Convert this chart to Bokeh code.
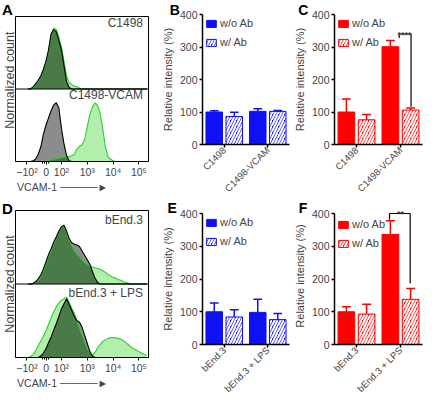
import math
import numpy as np
from bokeh.plotting import figure
from bokeh.layouts import row, column
from bokeh.models import (FixedTicker, Label, Arrow, Legend, LegendItem, Span, Title)
from bokeh.embed import file_html
from bokeh.resources import INLINE

FONT = "Liberation Sans"

# ---------------- data ----------------
# flow cytometry channel (logicle display position, decades)
channel = [0.7, 0.8, 0.9, 1.0, 1.1, 1.2, 1.3, 1.4, 1.5, 1.6, 1.7, 1.8, 1.9, 2.0,
           2.1, 2.2, 2.3, 2.4, 2.5, 2.6, 2.7, 2.8, 2.9, 3.0, 3.1, 3.2, 3.3, 3.4,
           3.5, 3.6, 3.7, 3.8, 3.9, 4.0, 4.1, 4.2, 4.3, 4.4, 4.5, 4.6, 4.7, 4.8,
           4.9, 5.0, 5.1, 5.2, 5.3]
axis_ticks = [0.667, 1.41, 2.0, 3.0, 4.0, 5.0]
axis_tick_labels = ["\u221210\u00b2", "0", "10\u00b2", "10\u00b3", "10\u2074", "10\u2075"]
marker_label = "VCAM-1 \u2500\u2500\u2500\u2500\u2500\u25ba"

# Panel A (C1498 / C1498-VCAM) normalized counts: gray = control, green = VCAM-1
a_top_ctrl = [0, 0, 3, 7, 12, 18, 27, 38, 54, 76, 82, 79, 67, 54, 32, 10, 2, 0, 0, 0,
              0, 0, 0, 0, 0, 0, 0, 0, 0, 0, 0, 0, 0, 0, 0, 0, 0, 0, 0, 0, 0, 0, 0, 0,
              0, 0, 0]
a_top_vcam = [0, 0, 2, 6, 11, 17, 26, 37, 52, 74, 84, 82, 72, 58, 38, 18, 9, 6, 4, 3,
              1, 0, 0, 0, 0, 0, 0, 0, 0, 0, 0, 0, 0, 0, 0, 0, 0, 0, 0, 0, 0, 0, 0, 0,
              0, 0, 0]
a_bot_ctrl = [0, 0, 1, 3, 10, 20, 37, 50, 60, 70, 78, 81, 74, 46, 24, 8, 1, 0, 0, 0,
              0, 0, 0, 0, 0, 0, 0, 0, 0, 0, 0, 0, 0, 0, 0, 0, 0, 0, 0, 0, 0, 0, 0, 0,
              0, 0, 0]
a_bot_vcam = [0, 0, 0, 0, 0, 0, 0, 0, 1, 2, 3, 4, 5, 6, 6, 7, 7, 8, 10, 17,
              21, 23, 30, 48, 65, 75, 81, 77, 66, 45, 20, 7, 3, 1, 0, 0, 0, 0, 0, 0,
              0, 0, 0, 0, 0, 0, 0]
# Panel D (bEnd.3 / bEnd.3 + LPS)
d_top_ctrl = [0, 0, 1, 3, 7, 12, 20, 30, 40, 48, 57, 64, 72, 78, 80, 72, 62, 56, 54, 53,
              51, 45, 39, 33, 27, 17, 8, 2, 0, 0, 0, 0, 0, 0, 0, 0, 0, 0, 0, 0, 0, 0,
              0, 0, 0, 0, 0]
d_top_vcam = [0, 0, 0, 2, 5, 10, 17, 27, 37, 46, 55, 63, 71, 77, 79, 70, 60, 52, 46, 41,
              37, 33, 29, 27, 24, 23, 22, 21, 20, 18, 16, 13, 11, 9, 8, 6, 5, 3, 2, 1,
              0, 0, 0, 0, 0, 0, 0]
d_bot_ctrl = [0, 0, 0, 0, 0, 2, 6, 12, 20, 28, 37, 46, 56, 66, 73, 80, 72, 64, 56, 50,
              48, 41, 30, 19, 8, 2, 0, 0, 0, 0, 0, 0, 0, 0, 0, 0, 0, 0, 0, 0, 0, 0,
              0, 0, 0, 0, 0]
d_bot_vcam = [0, 1, 4, 9, 16, 22, 29, 36, 45, 54, 62, 69, 74, 78, 80, 82, 75, 67, 60, 50,
              40, 31, 21, 12, 6, 3, 7, 13, 18, 22, 24, 26, 27, 27, 27, 26, 25, 23, 20, 17,
              14, 12, 10, 8, 6, 4, 3]

# Bar panels: relative intensity (%), mean and upper error
cells_c1498 = ["C1498", "C1498-VCAM"]
cells_bend = ["bEnd.3", "bEnd.3 + LPS"]
b_wo, b_wo_err = [100, 102], [4, 8]
b_w, b_w_err = [86, 102], [13, 3]
c_wo, c_wo_err = [100, 301], [40, 19]
c_w, c_w_err = [76, 106], [16, 6]
e_wo, e_wo_err = [100, 98], [27, 40]
e_w, e_w_err = [84, 76], [22, 19]
f_wo, f_wo_err = [100, 336], [15, 42]
f_w, f_w_err = [93, 138], [30, 33]
c_sig, f_sig = "****", "**"
legend_labels = ["w/o Ab", "w/ Ab"]

# ---------------- styles ----------------
GRAY = "#8c8c8c"
LGREEN = "#b2efac"
GREEN = "#2ccf2c"
DGREEN = "#4a7a47"
BLUE = "#1010f5"
RED = "#ff0000"


def letter_title(p, text, offset, standoff, size="14px"):
    p.add_layout(Title(text=text, align="left", offset=offset, standoff=standoff,
                       vertical_align="bottom", text_font=FONT, text_font_size=size,
                       text_font_style="bold", text_color="black"), "above")


def hist_fig(top_c, top_v, bot_c, bot_v, lab_top, lab_bot, letter, h, btop, bbot,
             let_standoff, ylab_align, ylab_offset, lt_y, lb_y):
    p = figure(width=158, height=h, x_range=(0.222, 5.37), y_range=(0, 200),
               min_border_left=15, min_border_right=10, min_border_top=btop,
               min_border_bottom=bbot, toolbar_location=None, output_backend="svg",
               y_axis_location=None)
    p.grid.visible = False
    p.outline_line_color = "black"
    p.outline_line_width = 1
    for off, cc, vv in [(100, top_c, top_v), (0, bot_c, bot_v)]:
        c = np.array(cc, dtype=float)
        v = np.array(vv, dtype=float)
        p.varea(x=channel, y1=off, y2=off + v, fill_color=LGREEN)
        p.varea(x=channel, y1=off, y2=off + c, fill_color=GRAY)
        p.varea(x=channel, y1=off, y2=off + np.minimum(c, v), fill_color=DGREEN)
        p.line(channel, off + v, line_color=GREEN, line_width=1.1)
        p.line(channel, off + c, line_color="black", line_width=1.1)
    p.add_layout(Span(location=100, dimension="width", line_color="black", line_width=1))
    ax = p.xaxis[0]
    ax.ticker = FixedTicker(ticks=axis_ticks, minor_ticks=[1.28, 1.34, 1.48])
    ax.major_label_overrides = dict(zip(axis_ticks, axis_tick_labels))
    ax.major_label_text_font = FONT
    ax.major_label_text_font_size = "10.5px"
    ax.major_label_standoff = 1
    ax.major_tick_out = 3
    ax.major_tick_in = 0
    ax.minor_tick_out = 2
    ax.minor_tick_in = 0
    ax.axis_line_color = "black"
    # texts inside the frame (screen px from frame bottom-left)
    for txt, yy in [(lab_top, lt_y), (lab_bot, lb_y)]:
        p.add_layout(Label(x=127.5, y=yy, x_units="screen", y_units="screen", text=txt,
                           text_font=FONT, text_font_size="12px", text_align="right",
                           text_baseline="middle"))
    letter_title(p, letter, -13.5, let_standoff, "15px")
    p.add_layout(Title(text="Normalized count", align=ylab_align, offset=ylab_offset,
                       standoff=-2, vertical_align="bottom", text_font=FONT,
                       text_font_size="12.5px", text_font_style="normal"), "left")
    p.add_layout(Title(text=marker_label, align="left", offset=1.5, standoff=0,
                       vertical_align="top", text_font=FONT, text_font_size="10.6px",
                       text_font_style="normal"), "below")
    return p


def bar_fig(cats, wo, wo_err, w, w_err, color, letter, btop, bbot, bleft, bright,
            fh, let_offset, let_standoff, ytop=400, sig=None, sig_text=None):
    p = figure(width=bleft + 91 + bright, height=btop + fh + bbot,
               x_range=(0.5, 2.5), y_range=(0, ytop),
               min_border_left=bleft, min_border_right=bright, min_border_top=btop,
               min_border_bottom=bbot, toolbar_location=None, output_backend="svg")
    p.grid.visible = False
    p.outline_line_color = None
    xs = np.array([1.0, 2.0])
    x1 = xs - 0.23
    x2 = xs + 0.23
    wo_a, woe = np.array(wo, float), np.array(wo_err, float)
    w_a, we = np.array(w, float), np.array(w_err, float)
    r1 = p.vbar(x=x1, top=wo_a, width=0.38, fill_color=color, line_color=color)
    r2 = p.vbar(x=x2, top=w_a, width=0.38, fill_color=color, line_color=color,
                hatch_pattern="/", hatch_color="white", hatch_weight=2.1, hatch_scale=6)
    for xx, top, err in [(x1, wo_a, woe), (x2, w_a, we)]:
        p.segment(x0=xx, y0=top, x1=xx, y1=top + err, line_color=color, line_width=1.5)
        p.segment(x0=xx - 0.1, y0=top + err, x1=xx + 0.1, y1=top + err,
                  line_color=color, line_width=1.5)
    if sig is not None:
        xl, yl, xr, yr, ybr, xt, yt = sig
        for (a, b, c, d) in [(xl, yl, xl, ybr), (xl, ybr, xr, ybr), (xr, ybr, xr, yr)]:
            p.add_layout(Arrow(x_start=a, y_start=b, x_end=c, y_end=d, start=None, end=None,
                               line_color="black", line_width=1.2))
        p.add_layout(Label(x=xt, y=yt, text=sig_text, text_font=FONT, text_font_size="9px",
                           text_font_style="bold", text_align="center",
                           text_baseline="alphabetic"))
    if ytop == 400:
        loc = "top_left"
    else:
        loc = (3, fh - fh * (ytop - 400) / ytop - 3 - 33)
    leg = Legend(items=[LegendItem(label=legend_labels[0], renderers=[r1]),
                        LegendItem(label=legend_labels[1], renderers=[r2])],
                 location=loc, margin=3, padding=1, spacing=7,
                 glyph_width=12, glyph_height=9, label_height=9, label_standoff=3,
                 label_text_font=FONT, label_text_font_size="11px",
                 background_fill_alpha=0, border_line_color=None)
    p.add_layout(leg)
    xa = p.xaxis[0]
    xa.ticker = FixedTicker(ticks=[1, 2])
    xa.major_label_overrides = {1: cats[0], 2: cats[1]}
    xa.major_label_orientation = math.pi / 4
    xa.major_label_text_font_size = "9.5px"
    xa.major_label_standoff = 1
    ya = p.yaxis[0]
    ya.ticker = FixedTicker(ticks=[0, 100, 200, 300, 400])
    ya.bounds = (0, 400)
    ya.axis_label = "Relative intensity (%)"
    ya.axis_label_text_font = FONT
    ya.axis_label_text_font_size = "11px"
    ya.axis_label_text_font_style = "normal"
    ya.axis_label_standoff = 3
    ya.major_label_text_font_size = "10.5px"
    ya.major_label_standoff = 2
    for a in (xa, ya):
        a.major_label_text_font = FONT
        a.axis_line_width = 1.5
        a.major_tick_line_width = 1.5
        a.major_tick_out = 3
        a.major_tick_in = 0
        a.minor_tick_out = 0
        a.minor_tick_in = 0
    letter_title(p, letter, let_offset, let_standoff)
    return p


# column 1: A (8..203), D (203..410)
pA = hist_fig(a_top_ctrl, a_top_vcam, a_bot_ctrl, a_bot_vcam, "C1498", "C1498-VCAM", "A",
              195, 16, 34, -3, "right", 15, 138.9, 66.6)
pD = hist_fig(d_top_ctrl, d_top_vcam, d_bot_ctrl, d_bot_vcam, "bEnd.3", "bEnd.3 + LPS", "D",
              207, 15, 45, -12, "center", 0, 137.9, 64.2)
# column 2: B (8..208), E (208..410)
pB = bar_fig(cells_c1498, b_wo, b_wo_err, b_w, b_w_err, BLUE, "B", 14, 53, 40, 1,
             133, -32.7, -7.6)
pE = bar_fig(cells_bend, e_wo, e_wo_err, e_w, e_w_err, BLUE, "E", 13, 58, 40, 1,
             131, -35, -5.8)
# column 3: C (8..208), F (208..410); F's range reaches above 400 to hold the "**"
pC = bar_fig(cells_c1498, c_wo, c_wo_err, c_w, c_w_err, RED, "C", 14, 53, 41, 2,
             133, -36.3, -7.6,
             sig=(1.97, 328, 2.24, 116, 340, 2.09, 338), sig_text=c_sig)
pF = bar_fig(cells_bend, f_wo, f_wo_err, f_w, f_w_err, RED, "F", 7, 58, 41, 2,
             137, -35.7, -17.8, ytop=400 * 137 / 131,
             sig=(1.75, 381, 2.22, 187, 400, 2.0, 397), sig_text=f_sig)

layout = row(column(pA, pD, spacing=0), column(pB, pE, spacing=0),
             column(pC, pF, spacing=0), spacing=0)

open("out.html", "w").write(file_html(layout, INLINE))
